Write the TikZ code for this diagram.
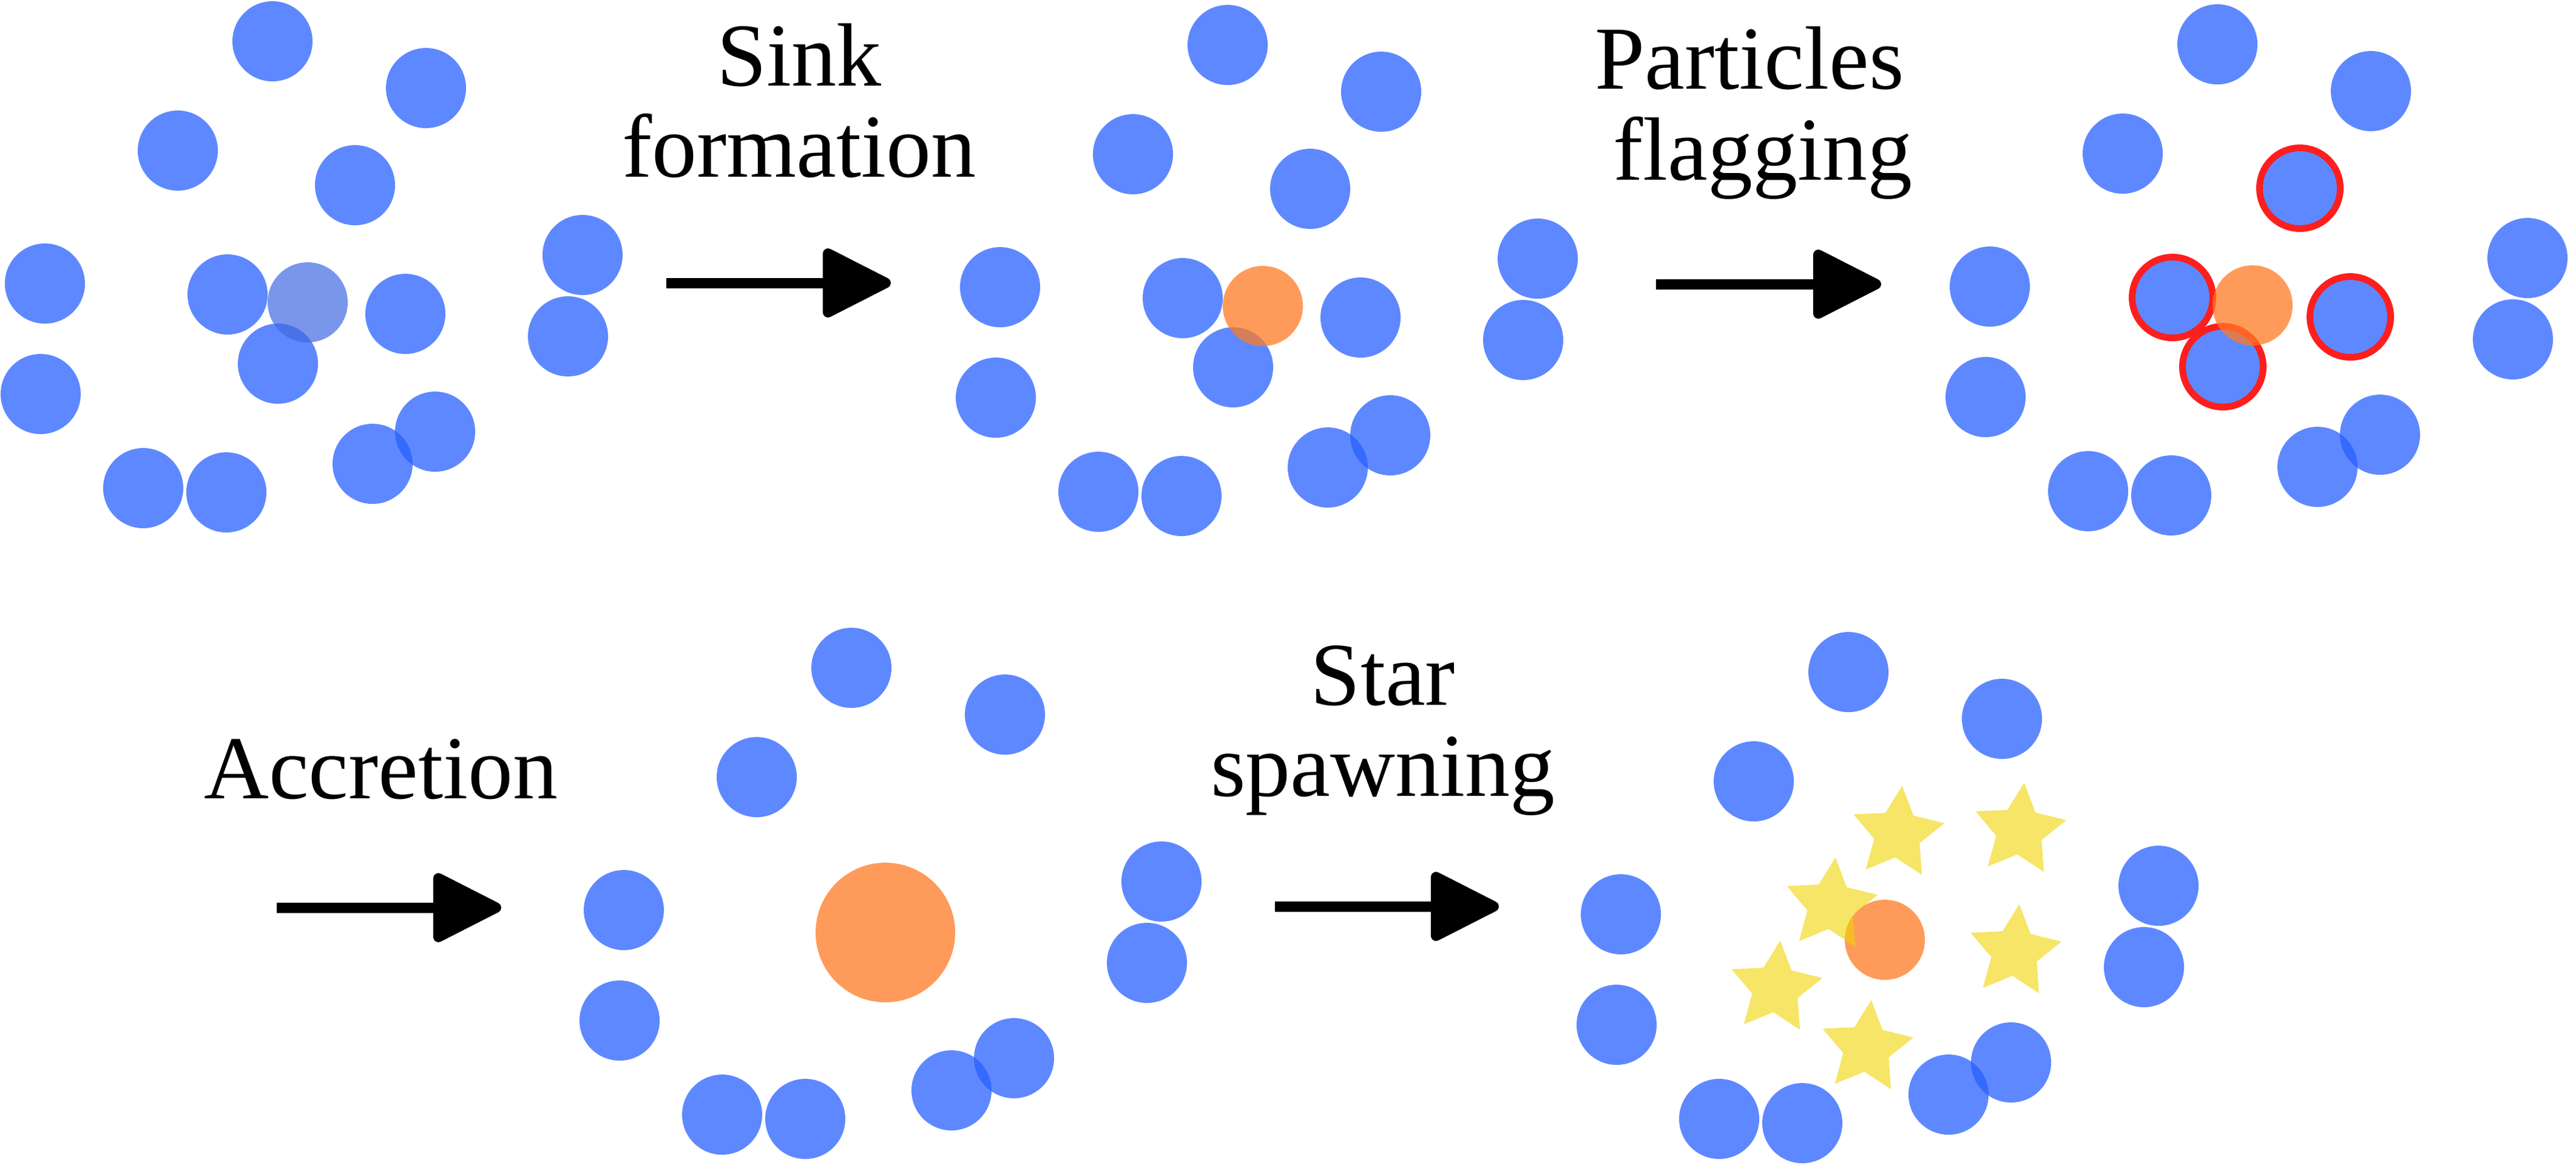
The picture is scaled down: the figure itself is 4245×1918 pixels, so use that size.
\documentclass[tikz,border=0pt]{standalone}
\usepackage{fontspec}
\setmainfont{Liberation Serif}
\usetikzlibrary{arrows.meta,shapes.geometric}
\definecolor{pblue}{RGB}{40,96,255}
\definecolor{seedblue}{RGB}{65,105,225}
\definecolor{sinkorange}{RGB}{255,122,35}
\definecolor{flagred}{RGB}{255,30,30}
\definecolor{stargold}{RGB}{240,212,0}
\tikzset{
  particle/.style={circle, fill=pblue, fill opacity=0.75, minimum size=13.2pt, inner sep=0pt, outer sep=0pt},
  seed/.style={circle, fill=seedblue, fill opacity=0.7, minimum size=13.2pt, inner sep=0pt, outer sep=0pt},
  sinkdot/.style={circle, fill=sinkorange, fill opacity=0.75, minimum size=13.2pt, inner sep=0pt, outer sep=0pt},
  bigsink/.style={sinkdot, minimum size=23pt},
  flagring/.style={circle, draw=flagred, line width=1.1pt, minimum size=13.3pt, inner sep=0pt, outer sep=0pt},
  newstar/.style={star, star points=5, star point ratio=2, fill=stargold, fill opacity=0.6, minimum size=15.8pt, inner sep=0pt, outer sep=0pt, shape border rotate=-5.5},
  steptext/.style={font=\fontsize{14.8pt}{15pt}\selectfont, align=center, anchor=base, inner sep=0pt},
  stepline/.style={line width=1.7pt, -{Triangle[length=12.3pt, width=12pt, round]}}
}
\begin{document}
\begin{tikzpicture}[x=0.1pt, y=-0.1pt]
\useasboundingbox (0,0) rectangle (4245,1918);

% ---------- panel 1 ----------
\foreach \n/\x/\y in {A/449/68, B/702/145, C/293/248, D/585/305, E/74/467, F/375/485, H/668/517, I/458/599, J/67/649, K/960/420, L/936/554, M/236/804, N/373/811, O/614/764, P/717/711}
  \node[particle] (a\n) at (\x,\y) {};
\node[seed] (aG) at (507,498) {};

% ---------- panel 2 ----------
\foreach \n/\x/\y in {A/449/68, B/702/145, C/293/248, D/585/305, E/74/467, F/375/485, H/668/517, I/458/599, J/67/649, K/960/420, L/936/554, M/236/804, N/373/811, O/614/764, P/717/711}
  \node[particle] (b\n) at ({\x+1574},{\y+6}) {};
\node[sinkdot] (bG) at (2081,504) {};

% ---------- panel 3 ----------
\foreach \n/\x/\y in {A/449/68, B/702/145, C/293/248, D/585/305, E/74/467, F/375/485, H/668/517, I/458/599, J/67/649, K/960/420, L/936/554, M/236/804, N/373/811, O/614/764, P/717/711}
  \node[particle] (c\n) at ({\x+3205},{\y+5}) {};
\foreach \n in {D,F,H,I}
  \node[flagring] (cr\n) at (c\n) {};
\node[sinkdot] (cG) at (3712,503) {};

% ---------- panel 4 ----------
\foreach \n/\x/\y in {A/449/68, B/702/145, C/293/248, E/74/467, J/67/649, K/960/420, L/936/554, M/236/804, N/373/811, O/614/764, P/717/711}
  \node[particle] (d\n) at ({\x+954},{\y+1032}) {};
\node[bigsink] (dG) at (1459,1536) {};

% ---------- panel 5 ----------
\foreach \n/\x/\y in {A/449/68, B/702/145, C/293/248, E/74/467, J/67/649, K/960/420, L/936/554, M/236/804, N/373/811, O/614/764, P/717/711}
  \node[particle] (e\n) at ({\x+2597},{\y+1039}) {};
\node[sinkdot] (eG) at (3106,1548) {};
\node[newstar] (st1) at (3127,1373) {};
\node[newstar] (st2) at (3328,1368) {};
\node[newstar] (st3) at (3017,1491) {};
\node[newstar] (st4) at (3320,1568) {};
\node[newstar] (st5) at (2926,1628) {};
\node[newstar] (st6) at (3076,1726) {};

% ---------- arrows ----------
\coordinate (ar1s) at (1098,466);  \coordinate (ar1e) at (1468,466);
\coordinate (ar2s) at (2729,468);  \coordinate (ar2e) at (3100,468);
\coordinate (ar3s) at (456,1495);  \coordinate (ar3e) at (826,1495);
\coordinate (ar4s) at (2101,1493); \coordinate (ar4e) at (2470,1493);
\draw[stepline] (ar1s) -- (ar1e);
\draw[stepline] (ar2s) -- (ar2e);
\draw[stepline] (ar3s) -- (ar3e);
\draw[stepline] (ar4s) -- (ar4e);

% ---------- labels (anchor = baseline of the last line) ----------
\node[steptext] (t1) at (1317,291) {Sink\\formation};
\node[steptext] (t2) at (2883,296) {Particles\\\hspace*{4.4pt}flagging};
\node[steptext] (t3) at (628,1315) {Accretion};
\node[steptext] (t4) at (2279,1311) {Star\\spawning};
\end{tikzpicture}
\end{document}
